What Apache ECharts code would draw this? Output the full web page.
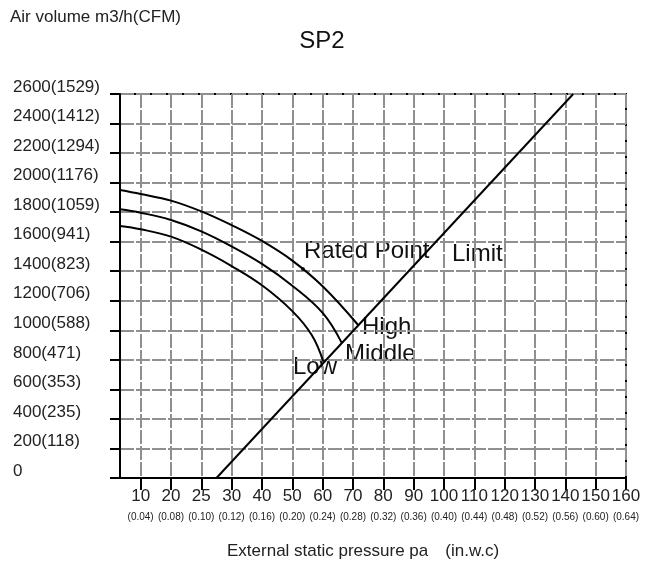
<!DOCTYPE html>
<html><head><meta charset="utf-8">
<script src="https://cdn.jsdelivr.net/npm/echarts@6/dist/echarts.min.js"></script>
<style>html,body{margin:0;padding:0;background:#fff}#c{width:653px;height:569px}</style>
</head><body><div id="c"></div>
<script>
// ---- tick labels ----
const xTickPa = [10,20,25,30,40,50,60,70,80,90,100,110,120,130,140,150,160];
const xTickInwc = ['0.04','0.08','0.10','0.12','0.16','0.20','0.24','0.28','0.32','0.36','0.40','0.44','0.48','0.52','0.56','0.60','0.64'];
const yTickM3h = [0,200,400,600,800,1000,1200,1400,1600,1800,2000,2200,2400,2600];
const yTickCFM = [null,118,235,353,471,588,706,823,941,1059,1176,1294,1412,1529];

// ---- series (pressure Pa, air volume m3/h) ----
const highPa = [3.2,10,20,25,30,40,50,60,71.7];
const highQ  = [1950,1923,1878,1805,1712,1605,1472,1298,1036];
const midPa  = [3.2,10,20,25,30,40,50,60,66.3];
const midQ   = [1819,1796,1747,1670,1568,1450,1302,1118,915];
const lowPa  = [3.2,10,20,25,30,40,50,56.4,60.2];
const lowQ   = [1706,1684,1634,1546,1435,1305,1130,968,790];
const limitPa = [27.5,142.6];
const limitQ  = [0,2600];
const ratedPa = [53.5];
const ratedQ  = [1415];
const xStartPa = 3.2;

// the printed axis spaces its tick labels evenly: map Pa onto tick slots
function paToSlot(pa){
  const t = xTickPa, n = t.length - 1;
  if (pa <= t[0]) return (pa - t[0]) / (t[1] - t[0]);
  for (let i = 0; i < n; i++) if (pa <= t[i+1]) return i + (pa - t[i]) / (t[i+1] - t[i]);
  return n + (pa - t[n]) / (t[n] - t[n-1]);
}
function pairs(xs, ys){ return xs.map((x,i)=>[paToSlot(x), ys[i]]); }

const sans = '"Liberation Sans",Arial,sans-serif';
const slots = xTickPa.map((_,i)=>i);

const chart = echarts.init(document.getElementById('c'), null, {renderer:'canvas'});
const lineStyle = {color:'#000', width:2};
const gridLine = {show:true, lineStyle:{color:'#909090', width:2, type:[14,2]}};
chart.setOption({
  animation:false,
  backgroundColor:'#fff',
  grid:{left:120, right:27, top:94, bottom:91, show:true, borderColor:'#000', borderWidth:2},
  xAxis:{
    type:'value', min:paToSlot(xStartPa), max:xTickPa.length-1,
    axisLine:{show:true, onZero:false, lineStyle:{color:'#000', width:2}},
    axisTick:{show:true, customValues:slots, length:12, lineStyle:{color:'#000', width:2}},
    axisLabel:{customValues:slots, margin:8, showMaxLabel:true, showMinLabel:true, hideOverlap:false,
      formatter:v=>{const i=Math.round(v); return '{a|'+xTickPa[i]+'}\n{b|('+xTickInwc[i]+')}';},
      rich:{a:{fontFamily:sans, fontSize:17, lineHeight:20, color:'#222'},
            b:{fontFamily:sans, fontSize:10, lineHeight:22, color:'#222'}}},
    splitLine:gridLine
  },
  yAxis:{
    type:'value', min:0, max:2600, interval:200,
    axisLine:{show:true, onZero:false, lineStyle:{color:'#000', width:2}},
    axisTick:{show:true, length:10, lineStyle:{color:'#000', width:2}},
    axisLabel:{align:'left', margin:107, verticalAlign:'bottom', lineHeight:14,
      fontFamily:sans, fontSize:17, color:'#222',
      formatter:v=>{const i=Math.round(v/200); return yTickCFM[i]==null? String(yTickM3h[i]) : yTickM3h[i]+'('+yTickCFM[i]+')';}},
    splitLine:gridLine
  },
  series:[
    {type:'line', data:pairs(highPa,highQ), smooth:0.4, symbol:'none', lineStyle},
    {type:'line', data:pairs(midPa,midQ), smooth:0.4, symbol:'none', lineStyle},
    {type:'line', data:pairs(lowPa,lowQ), smooth:0.4, symbol:'none', lineStyle},
    {type:'line', data:pairs(limitPa,limitQ), symbol:'none', lineStyle},
    {type:'scatter', data:pairs(ratedPa,ratedQ), symbol:'circle', symbolSize:4, itemStyle:{color:'#000'}}
  ],
  graphic:[
    {type:'text', left:10, top:9, style:{text:'Air volume m3/h(CFM)', font:'17px '+sans, fill:'#222'}},
    {type:'text', x:322, y:41, style:{text:'SP2', font:'24px '+sans, fill:'#111', align:'center', verticalAlign:'middle'}},
    {type:'text', x:304, y:251, style:{text:'Rated Point', font:'24px '+sans, fill:'#111', verticalAlign:'middle'}},
    {type:'text', x:452, y:254, style:{text:'Limit', font:'24px '+sans, fill:'#111', verticalAlign:'middle'}},
    {type:'text', x:362, y:327, style:{text:'High', font:'24px '+sans, fill:'#111', verticalAlign:'middle'}},
    {type:'text', x:345, y:354, style:{text:'Middle', font:'24px '+sans, fill:'#111', verticalAlign:'middle'}},
    {type:'text', x:293, y:367, style:{text:'Low', font:'24px '+sans, fill:'#111', verticalAlign:'middle'}},
    {type:'text', x:227, y:551, style:{text:'External static pressure pa\u3000(in.w.c)', font:'17px '+sans, fill:'#222', verticalAlign:'middle'}}
  ]
});
</script></body></html>
